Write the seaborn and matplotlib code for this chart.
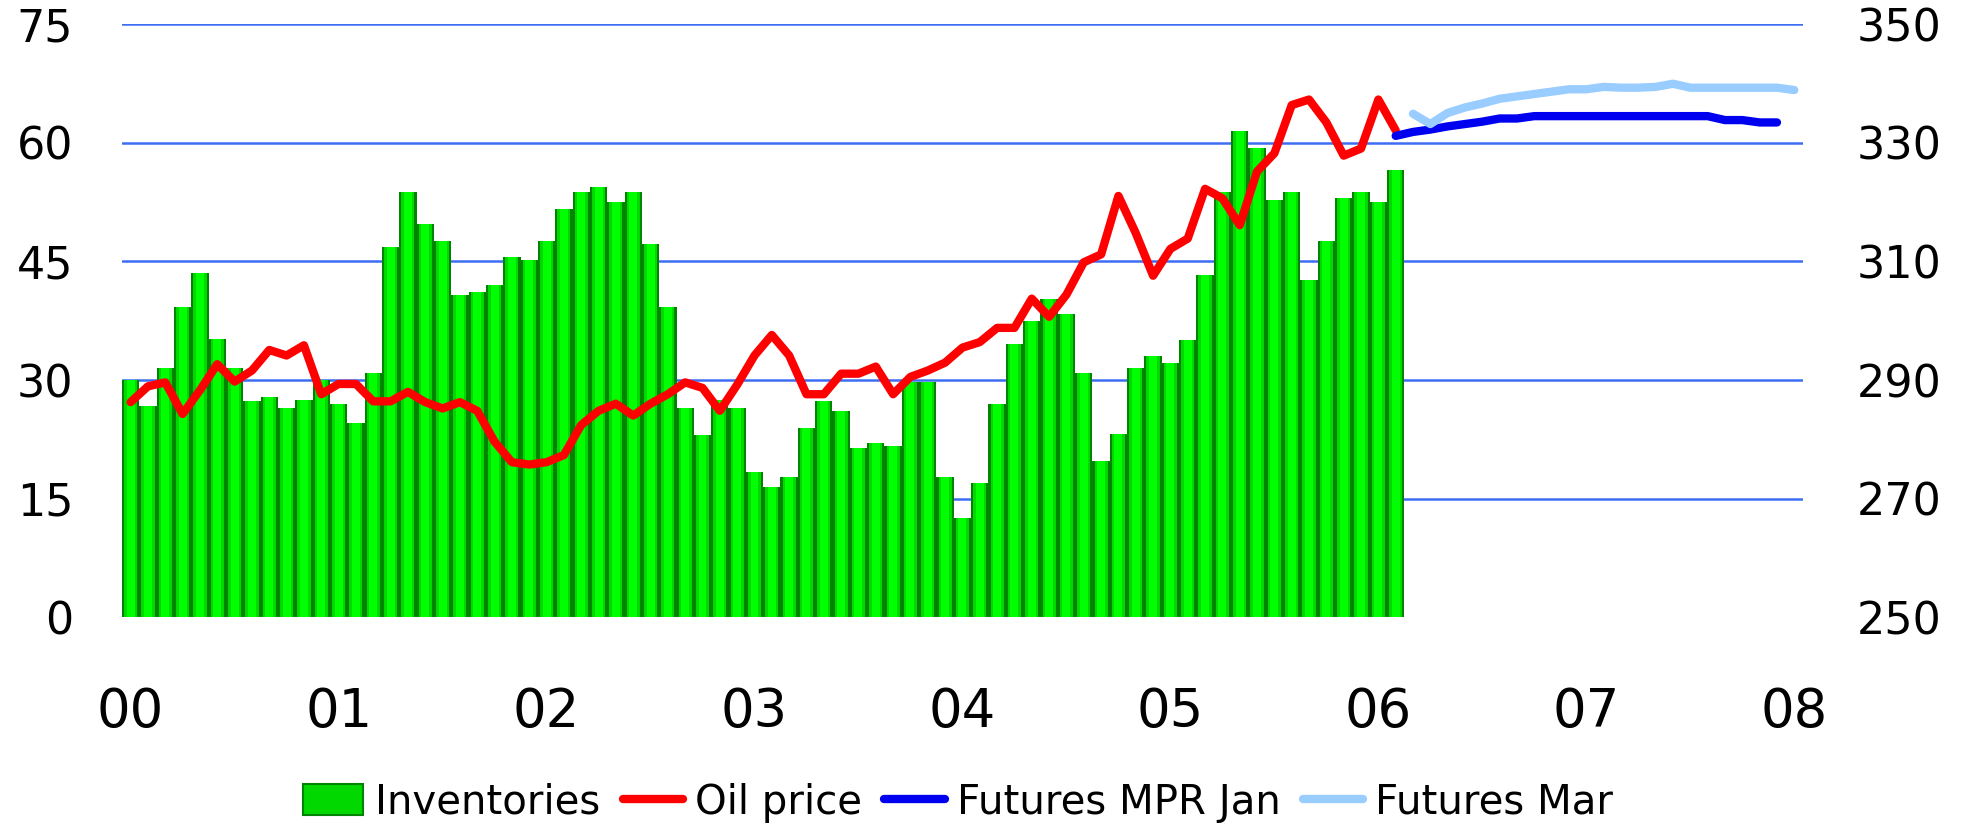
import numpy as np
import pandas as pd
import matplotlib
matplotlib.use("Agg")
import matplotlib.pyplot as plt
import seaborn as sns
from matplotlib.patches import Patch
from matplotlib.lines import Line2D

# x axis: monthly slots, Jan 2000 .. Jan 2008
N_SLOTS = 97
YEAR_LABELS = ["00", "01", "02", "03", "04", "05", "06", "07", "08"]

# US crude inventories, million barrels (right axis), Jan 2000 - Feb 2006
INVENTORIES = [
    290.0, 285.6, 292.1, 302.4, 308.0, 296.9, 292.1, 286.4, 287.2, 285.3, 286.7, 290.0,
    285.9, 282.7, 291.2, 312.5, 321.7, 316.3, 313.5, 304.4, 304.8, 306.0, 310.7, 310.3,
    313.5, 318.8, 321.7, 322.5, 320.1, 321.7, 312.9, 302.4, 285.3, 280.7, 286.7, 285.3,
    274.4, 271.9, 273.6, 281.9, 286.4, 284.7, 278.5, 279.3, 278.9, 289.6, 289.6, 273.6,
    266.7, 272.7, 285.9, 296.1, 299.9, 303.6, 301.2, 291.2, 276.4, 280.9, 292.1, 294.1,
    292.9, 296.7, 307.7, 321.7, 332.0, 329.1, 320.4, 321.7, 306.9, 313.5, 320.8, 321.7,
    320.1, 325.5,
]

# oil price, USD per barrel (left axis)
OIL_PRICE = [
    27.2, 29.2, 29.7, 25.7, 28.7, 32.0, 29.8, 31.2, 33.8, 33.1, 34.4, 28.2,
    29.5, 29.5, 27.3, 27.3, 28.5, 27.2, 26.4, 27.2, 26.1, 22.2, 19.6, 19.3,
    19.6, 20.5, 24.3, 26.1, 27.0, 25.5, 27.0, 28.2, 29.7, 29.0, 26.1, 29.4,
    33.1, 35.7, 33.1, 28.2, 28.2, 30.8, 30.8, 31.7, 28.2, 30.4, 31.2, 32.2,
    34.1, 34.8, 36.6, 36.6, 40.3, 38.0, 40.8, 44.9, 45.9, 53.3, 48.6, 43.2,
    46.6, 47.9, 54.2, 53.0, 49.6, 56.4, 58.7, 64.8, 65.5, 62.6, 58.4, 59.3,
    65.5, 61.6,
]

# futures curves, starting slot and values
FUT_JAN_START = 73
FUTURES_JAN = [
    60.9, 61.4, 61.7, 62.1, 62.4, 62.7, 63.1, 63.1, 63.4, 63.4, 63.4, 63.4,
    63.4, 63.4, 63.4, 63.4, 63.4, 63.4, 63.4, 62.9, 62.9, 62.6, 62.6,
]
FUT_MAR_START = 74
FUTURES_MAR = [
    63.7, 62.4, 63.8, 64.5, 65.0, 65.6, 65.9, 66.2, 66.5, 66.8, 66.8, 67.1,
    67.0, 67.0, 67.1, 67.5, 67.0, 67.0, 67.0, 67.0, 67.0, 67.0, 66.7,
]

GRID_LEVELS = [270, 290, 310, 330, 350]

sns.set_theme(style="white")
plt.rcParams["font.family"] = ["DejaVu Sans"]
plt.rcParams["text.color"] = "black"

inv = pd.DataFrame({"slot": np.arange(len(INVENTORIES)), "inv": INVENTORIES})
oil = pd.DataFrame({"slot": np.arange(len(OIL_PRICE)), "price": OIL_PRICE})
fjan = pd.DataFrame({"slot": np.arange(len(FUTURES_JAN)) + FUT_JAN_START, "price": FUTURES_JAN})
fmar = pd.DataFrame({"slot": np.arange(len(FUTURES_MAR)) + FUT_MAR_START, "price": FUTURES_MAR})

fig = plt.figure(figsize=(19.67, 8.30), dpi=100)
ax = fig.add_axes([0.062, 0.2566, 0.8546, 0.7139])
ax2 = ax.twinx()

# gridlines behind the bars
for lvl in GRID_LEVELS:
    ax.axhline(lvl, color="#3d6df2", lw=1.8, zorder=0.5)

# bars with a cylinder-like shading: dark base, mid band, bright core
for w, c in [(1.0, "#008400"), (0.76, "#00d800"), (0.46, "#00ff00")]:
    sns.barplot(data=inv, x="slot", y="inv", native_scale=True, width=w,
                color=c, saturation=1, errorbar=None, linewidth=0, ax=ax)

sns.lineplot(data=oil, x="slot", y="price", color="#ff0000", linewidth=6,
             sort=False, solid_capstyle="round", ax=ax2)
sns.lineplot(data=fjan, x="slot", y="price", color="#0000f0", linewidth=6,
             sort=False, solid_capstyle="round", ax=ax2)
sns.lineplot(data=fmar, x="slot", y="price", color="#99ccff", linewidth=6,
             sort=False, solid_capstyle="round", ax=ax2)

ax.set_ylim(250, 350)
ax2.set_ylim(0, 75)
ax.set_xlim(-0.5, N_SLOTS - 0.5)
ax.set_xticks(np.arange(0, N_SLOTS, 12))
ax.set_xticklabels(YEAR_LABELS)

ax.set_yticks(np.arange(250, 351, 20))
ax2.set_yticks(np.arange(0, 76, 15))
ax.yaxis.tick_right()
ax2.yaxis.tick_left()

ax.set_xlabel("")
ax.set_ylabel("")
ax2.set_xlabel("")
ax2.set_ylabel("")
for a in (ax, ax2):
    for s in a.spines.values():
        s.set_visible(False)
    a.grid(False)

ax.tick_params(axis="x", length=0, pad=50, labelsize=38, colors="black")
ax.tick_params(axis="y", length=0, pad=39, labelsize=32, colors="black")
ax2.tick_params(axis="y", length=0, pad=35, labelsize=32, colors="black")

handles = [
    Patch(facecolor="#00d800", edgecolor="#008400", linewidth=1.5),
    Line2D([0], [0], color="#ff0000", lw=6),
    Line2D([0], [0], color="#0000f0", lw=6),
    Line2D([0], [0], color="#99ccff", lw=6),
]
labels = ["Inventories", "Oil price", "Futures MPR Jan", "Futures Mar"]
leg = fig.legend(handles, labels, loc="center", bbox_to_anchor=(0.487, 0.033), ncol=4,
                 frameon=False, fontsize=29, handlelength=1.5, handleheight=0.8,
                 handletextpad=0.3, columnspacing=0.55)
for t in leg.get_texts():
    t.set_color("black")

fig.savefig("out.png", dpi=100)
